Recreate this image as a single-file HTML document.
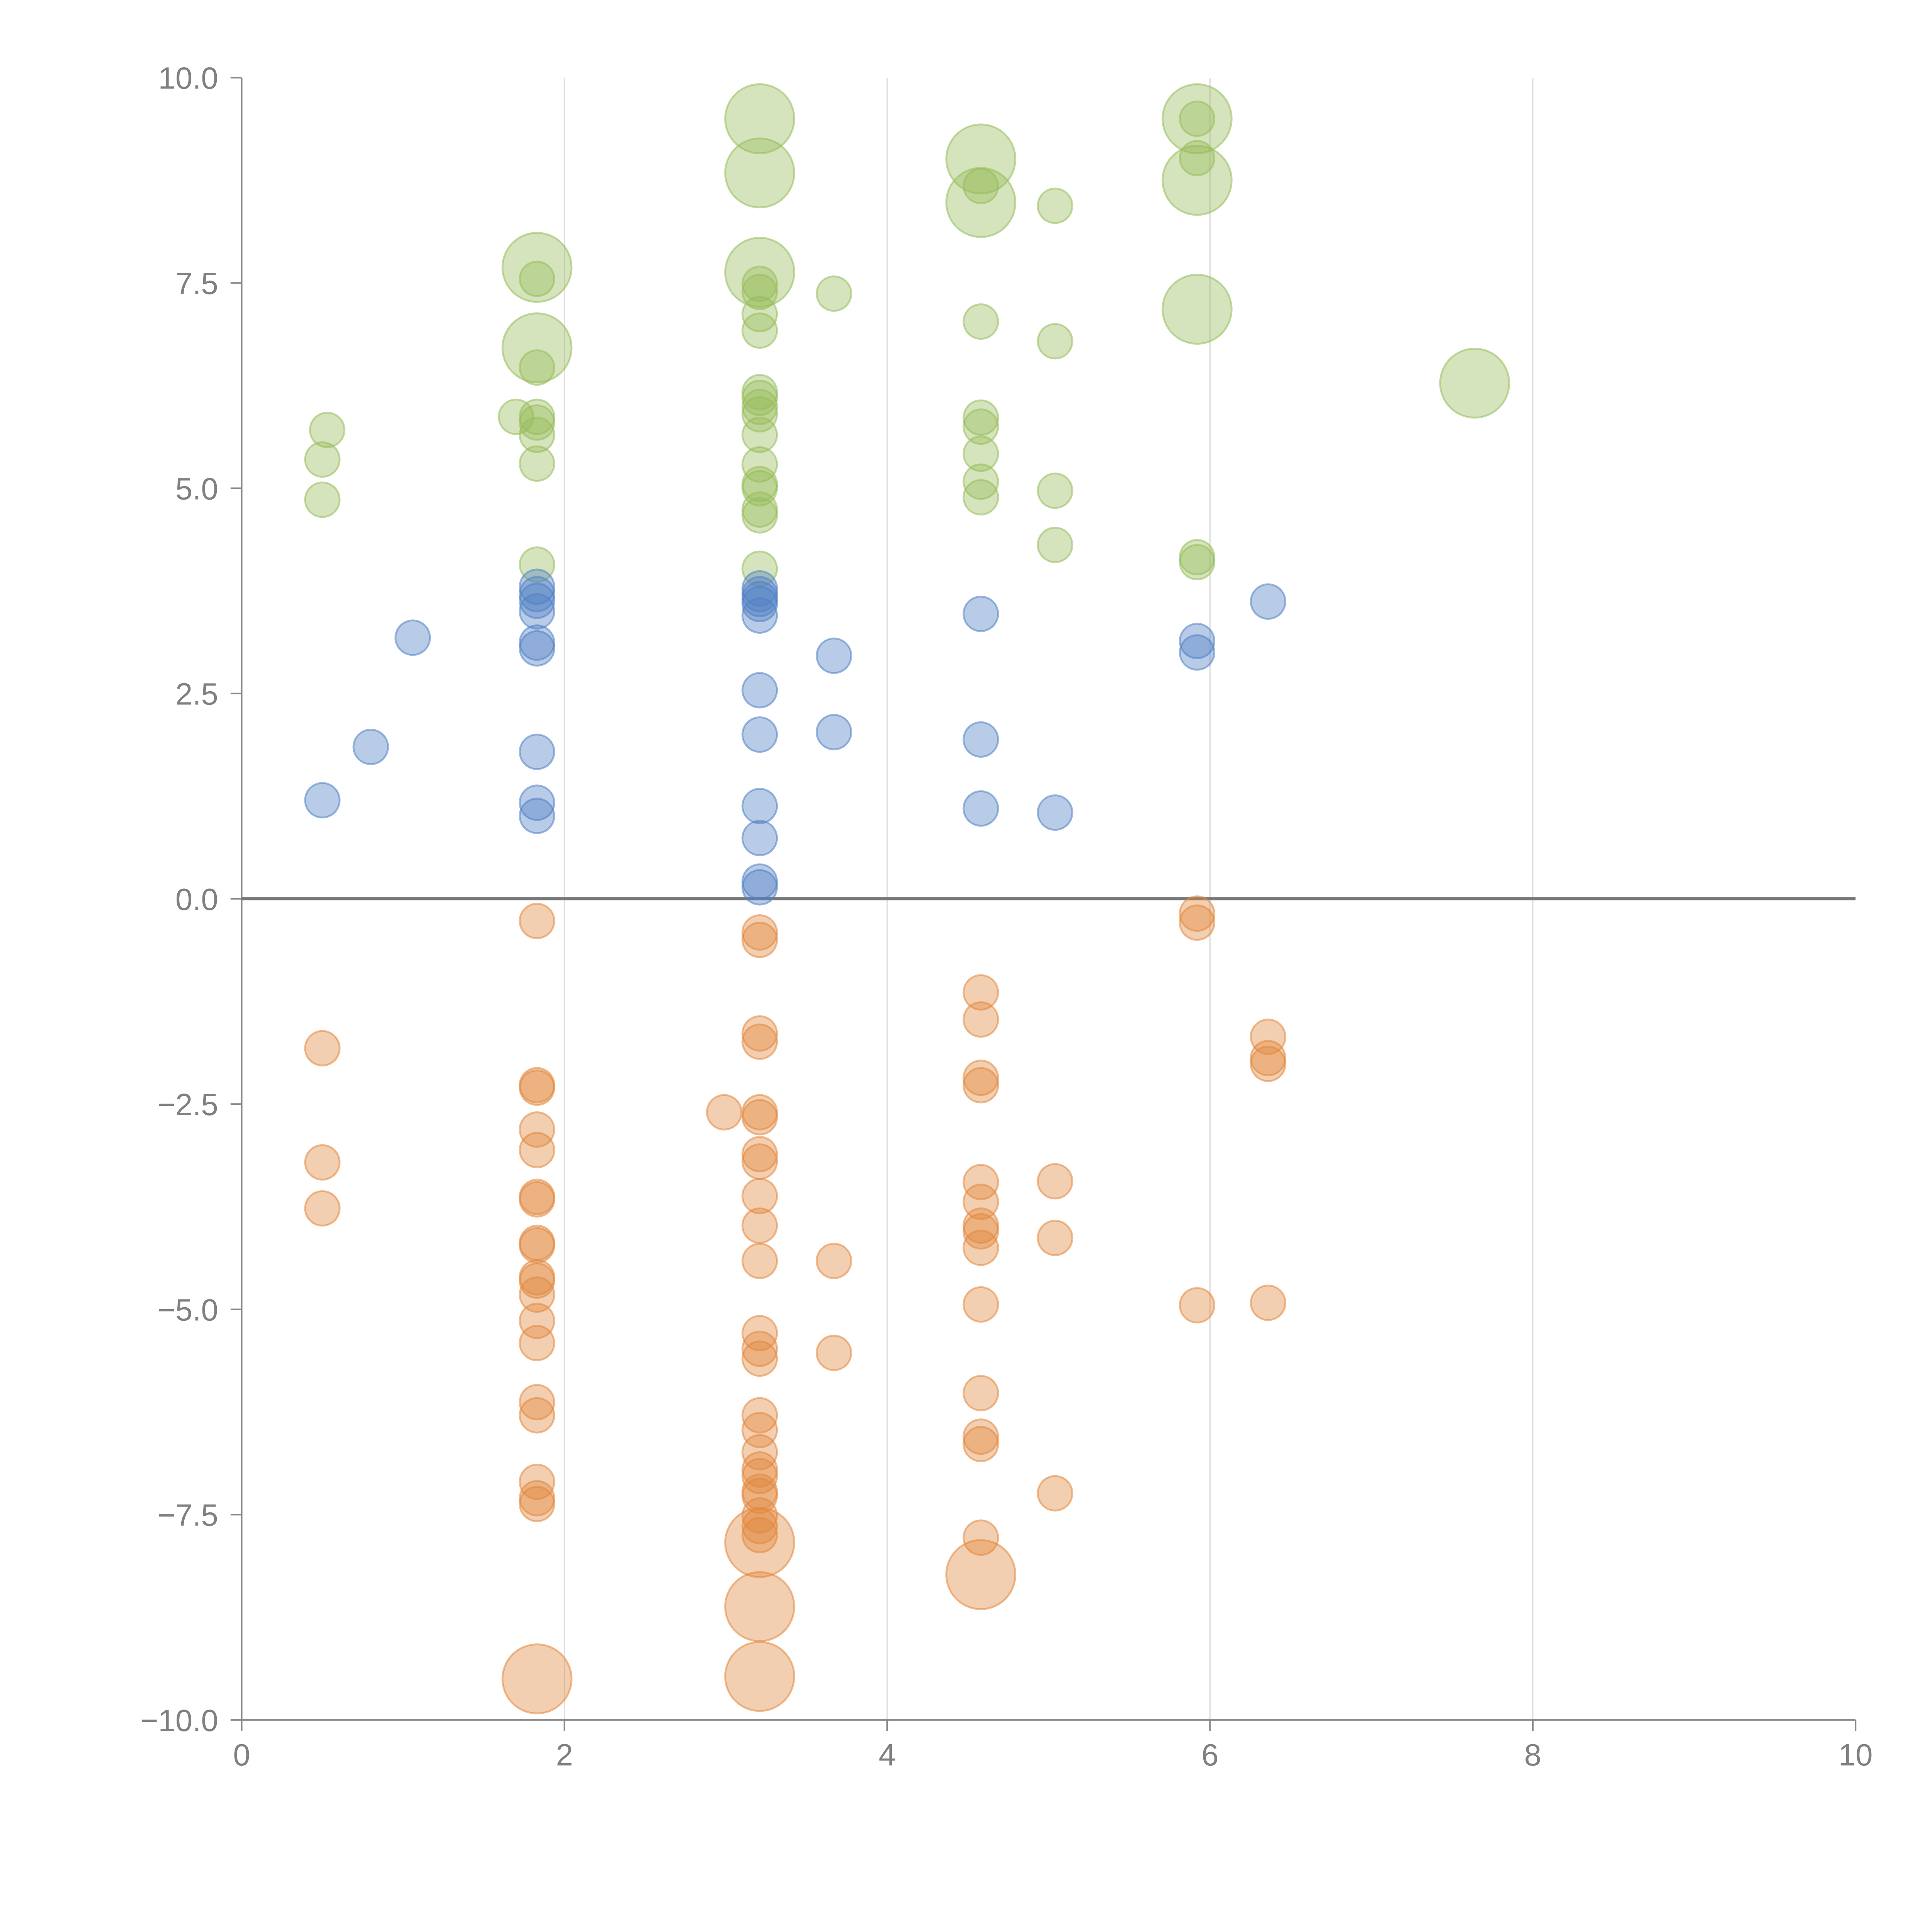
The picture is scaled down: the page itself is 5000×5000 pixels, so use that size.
<!DOCTYPE html>
<html><head><meta charset="utf-8"><style>html,body{margin:0;padding:0;background:#fff}svg{display:block}</style></head>
<body>
<svg id="chart" width="5000" height="5000" viewBox="0 0 1567 1567" xmlns="http://www.w3.org/2000/svg" font-family="Liberation Sans, sans-serif">
<g id="grid"></g>
<g id="axes"></g>
<g id="marks"></g>
</svg>
<script>
const xTicks=[0,2,4,6,8,10];
const yTicks=[-10,-7.5,-5,-2.5,0,2.5,5,7.5,10];
const yTickLabels=["\u221210.0","\u22127.5","\u22125.0","\u22122.5","0.0","2.5","5.0","7.5","10.0"];
const greenX=[0.53,0.5,0.5,1.70,1.83,1.83,1.83,1.83,1.83,1.83,1.83,1.83,1.83,3.21,3.21,3.21,3.21,3.21,3.21,3.21,3.21,3.21,3.21,3.21,3.21,3.21,3.21,3.21,3.21,3.21,3.21,3.67,4.58,4.58,4.58,4.58,4.58,4.58,4.58,4.58,4.58,5.04,5.04,5.04,5.04,5.92,5.92,5.92,5.92,5.92,5.92,5.92,7.64];
const greenY=[5.71,5.35,4.86,5.87,7.55,6.47,5.87,5.8,5.65,5.30,4.07,7.69,6.71,9.50,8.84,7.63,7.49,7.39,7.12,6.92,6.17,6.10,5.99,5.90,5.65,5.29,5.05,5.00,4.74,4.67,4.02,7.37,9.01,8.48,8.68,7.03,5.86,5.75,5.42,5.08,4.89,8.44,6.79,4.97,4.31,9.50,8.75,7.18,9.5,9.02,4.16,4.10,6.28];
const greenS=[1,1,1,1,1,1,1,1,1,1,1,2,2,2,2,2,1,1,1,1,1,1,1,1,1,1,1,1,1,1,1,1,2,2,1,1,1,1,1,1,1,1,1,1,1,2,2,2,1,1,1,1,2];
const blueX=[0.5,0.80,1.06,1.83,1.83,1.83,1.83,1.83,1.83,1.83,1.83,1.83,3.21,3.21,3.21,3.21,3.21,3.21,3.21,3.21,3.21,3.21,3.21,3.67,3.67,4.58,4.58,4.58,5.04,5.92,5.92,6.36];
const blueY=[1.20,1.85,3.18,3.80,3.71,3.63,3.50,3.12,3.05,1.79,1.17,1.01,3.78,3.71,3.65,3.59,3.45,2.54,2.00,1.13,0.74,0.21,0.14,2.96,2.03,3.47,1.94,1.10,1.05,3.14,3.00,3.62];
const orangeX=[0.5,0.5,0.5,1.83,1.83,1.83,1.83,1.83,1.83,1.83,1.83,1.83,1.83,1.83,1.83,1.83,1.83,1.83,1.83,1.83,1.83,1.83,1.83,2.99,3.21,3.21,3.21,3.21,3.21,3.21,3.21,3.21,3.21,3.21,3.21,3.21,3.21,3.21,3.21,3.21,3.21,3.21,3.21,3.21,3.21,3.21,3.21,3.21,3.21,3.21,3.21,3.67,3.67,4.58,4.58,4.58,4.58,4.58,4.58,4.58,4.58,4.58,4.58,4.58,4.58,4.58,4.58,4.58,5.04,5.04,5.04,5.92,5.92,5.92,6.36,6.36,6.36,6.36];
const orangeY=[-1.82,-3.21,-3.77,-0.27,-2.27,-2.30,-2.81,-3.06,-3.63,-3.66,-4.19,-4.22,-4.61,-4.65,-4.82,-5.14,-5.41,-6.13,-6.29,-7.10,-7.30,-7.37,-9.50,-2.60,-0.41,-0.50,-1.64,-1.74,-2.60,-2.66,-3.11,-3.20,-3.62,-3.98,-4.41,-5.29,-5.48,-5.60,-6.29,-6.47,-6.74,-6.95,-7.03,-7.22,-7.27,-7.51,-7.64,-7.75,-7.84,-8.62,-9.47,-4.41,-5.53,-1.14,-1.47,-2.18,-2.27,-3.45,-3.69,-3.98,-4.05,-4.25,-4.94,-6.02,-6.55,-6.64,-7.78,-8.23,-3.44,-4.13,-7.24,-0.18,-0.29,-4.95,-1.68,-1.94,-2.01,-4.92];
const orangeS=[1,1,1,1,1,1,1,1,1,1,1,1,1,1,1,1,1,1,1,1,1,1,2,1,1,1,1,1,1,1,1,1,1,1,1,1,1,1,1,1,1,1,1,1,1,1,1,1,2,2,2,1,1,1,1,1,1,1,1,1,1,1,1,1,1,1,1,2,1,1,1,1,1,1,1,1,1,1];

const NS="http://www.w3.org/2000/svg";
const X0=196,X1=1505,Y0=1395,Y1=63;
function sx(v){return X0+(v-0)/(10-0)*(X1-X0);}
function sy(v){return Y0-(v+10)/20*(Y0-Y1);}
function rad(s){return s===2?28:14;}
function mk(tag,attrs,parent){const e=document.createElementNS(NS,tag);for(const k in attrs)e.setAttribute(k,attrs[k]);parent.appendChild(e);return e;}
const grid=document.getElementById('grid'),axes=document.getElementById('axes'),marks=document.getElementById('marks');
xTicks.forEach(t=>{
  if(t>0&&t<10){const l=mk('line',{x1:sx(t),x2:sx(t),y1:Y1,y2:Y0,stroke:'#dddddd','stroke-width':1},grid);
  
  }
  const tk=mk('line',{x1:sx(t),x2:sx(t),y1:Y0,y2:Y0+9,stroke:'#888','stroke-width':1.3},axes);
  
  
  const tx=mk('text',{x:sx(t),y:Y0+37,'text-anchor':'middle','font-size':25,fill:'#808080'},axes);
  tx.textContent=String(t);
  
  
});
yTicks.forEach((t,i)=>{
  const tk=mk('line',{x1:X0-9,x2:X0,y1:sy(t),y2:sy(t),stroke:'#888','stroke-width':1.3},axes);
  
  
  const tx=mk('text',{x:X0-19,y:sy(t)+9,'text-anchor':'end','font-size':25,fill:'#808080'},axes);
  tx.textContent=yTickLabels[i];
  
  
});
const ya=mk('line',{x1:X0,x2:X0,y1:Y1,y2:Y0,stroke:'#888','stroke-width':1.3},axes);


const xa=mk('line',{x1:X0,x2:X1,y1:Y0,y2:Y0,stroke:'#888','stroke-width':1.3},axes);


const zl=mk('line',{x1:X0,x2:X1,y1:sy(0),y2:sy(0),stroke:'#777','stroke-width':2.5},axes);


function series(xs,ys,ss,color,name){
  xs.forEach((x,i)=>{
    const c=mk('circle',{cx:sx(x),cy:sy(ys[i]),r:rad(ss?ss[i]:1),fill:color,'fill-opacity':0.4,stroke:color,'stroke-opacity':0.55,'stroke-width':1.5},marks);
    
    
  });
}
series(greenX,greenY,greenS,'rgb(150,188,90)','green-bubble');
series(blueX,blueY,null,'rgb(80,128,196)','blue-bubble');
series(orangeX,orangeY,orangeS,'rgb(225,135,60)','orange-bubble');
</script>
</body></html>
